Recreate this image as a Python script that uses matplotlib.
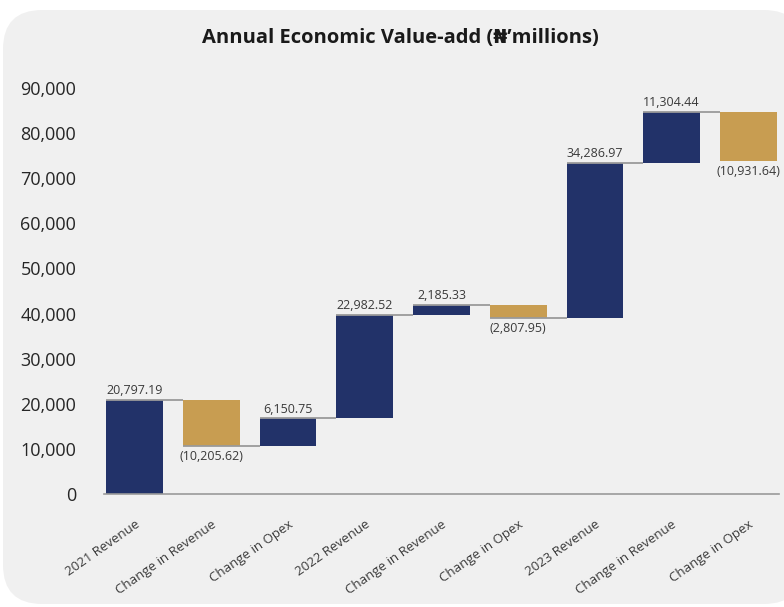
import matplotlib
matplotlib.use("Agg")
import matplotlib.pyplot as plt
from matplotlib.patches import FancyBboxPatch
from matplotlib.ticker import FuncFormatter
import numpy as np

plt.rcParams['font.family'] = ['Open Sans', 'DejaVu Sans']

categories = ["2021 Revenue", "Change in Revenue", "Change in Opex",
              "2022 Revenue", "Change in Revenue", "Change in Opex",
              "2023 Revenue", "Change in Revenue", "Change in Opex"]
values = [20797.19, -10205.62, 6150.75,
          22982.52, 2185.33, -2807.95,
          34286.97, 11304.44, -10931.64]
y_ticks = [0, 10000, 20000, 30000, 40000, 50000, 60000, 70000, 80000, 90000]

NAVY = "#223269"
GOLD = "#c89d51"
TEXT = "#3a3a3a"

fig = plt.figure(figsize=(7.84, 6.07), dpi=100)
fig.patch.set_facecolor("white")

# rounded grey card behind the chart
card = FancyBboxPatch((3 / 784, 3 / 607), 800 / 784, 594 / 607,
                      boxstyle="round,pad=0,rounding_size=0.05",
                      transform=fig.transFigure, facecolor="#f0f0f0",
                      edgecolor="none", zorder=-10, mutation_aspect=784 / 607)
fig.patches.append(card)

ax = fig.add_axes([104 / 784, 1 - 494 / 607, 675 / 784, 415 / 607])
ax.set_facecolor("none")
ax.set_zorder(1)

vals = np.array(values)
ends = np.cumsum(vals)
starts = ends - vals
x = np.arange(len(categories))
width = 0.74
colors = [NAVY if v >= 0 else GOLD for v in vals]

ax.bar(x, vals, bottom=starts, width=width, color=colors, zorder=2)

# connectors between consecutive bars
for i in range(len(vals) - 1):
    ax.plot([x[i] - width / 2, x[i + 1] - width / 2], [ends[i], ends[i]],
            color="#9a9a9a", lw=1.3, zorder=3, solid_capstyle="butt")

# value labels
for i, v in enumerate(vals):
    if v >= 0:
        ax.annotate(f"{v:,.2f}", (x[i], ends[i]), xytext=(0, 2),
                    textcoords="offset points", ha="center", va="bottom",
                    fontsize=9, color=TEXT)
    else:
        ax.annotate(f"({-v:,.2f})", (x[i], ends[i]), xytext=(0, -3),
                    textcoords="offset points", ha="center", va="top",
                    fontsize=9, color=TEXT)

ax.set_xlim(-0.40, 8.40)
ax.set_ylim(0, 92000)
ax.set_yticks(y_ticks)
ax.yaxis.set_major_formatter(FuncFormatter(lambda v, p: f"{v:,.0f}"))
ax.tick_params(axis="y", length=0, labelsize=13, labelcolor="#262626", pad=20)
ax.set_xticks(x)
ax.set_xticklabels(categories, rotation=35, ha="right", rotation_mode="anchor",
                   fontsize=9.5, color=TEXT)
ax.tick_params(axis="x", length=0, pad=17)

for s in ["top", "right", "left"]:
    ax.spines[s].set_visible(False)
ax.spines["bottom"].set_color("#9a9a9a")
ax.spines["bottom"].set_linewidth(1.2)

fig.text(400 / 784, 1 - 38 / 607, "Annual Economic Value-add (₦’millions)",
         ha="center", va="center", fontsize=14.5, fontweight="bold",
         color="#1a1a1a")

fig.savefig("out.png", dpi=100, facecolor=fig.get_facecolor())
